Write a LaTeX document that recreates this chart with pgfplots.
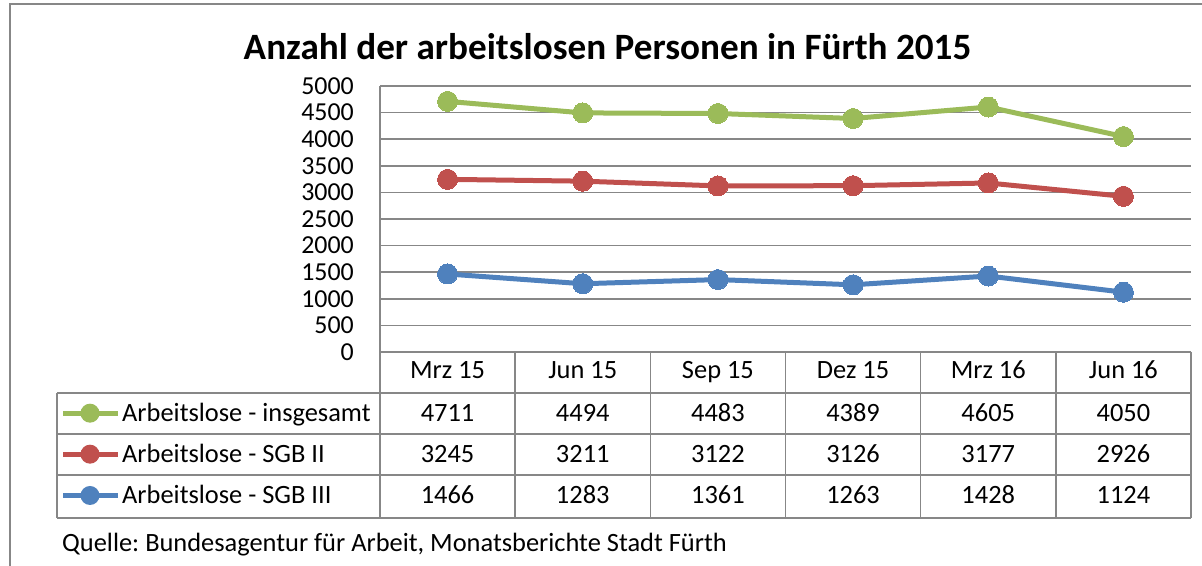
\documentclass[border=0pt]{standalone}
\usepackage{pgfplots}
\usepackage{pgfplotstable}
\pgfplotsset{compat=1.18}
\usepackage{fontspec}
\setmainfont{Carlito}
\frenchspacing
\definecolor{cgreen}{HTML}{9BBB59}
\definecolor{cred}{HTML}{C0504D}
\definecolor{cblue}{HTML}{4F81BD}
\definecolor{cgrid}{HTML}{878787}

\pgfplotstableread{
x tot sgb2 sgb3
0 4711 3245 1466
1 4494 3211 1283
2 4483 3122 1361
3 4389 3126 1263
4 4605 3177 1428
5 4050 2926 1124
}\datatable

\begin{document}
\begin{tikzpicture}[x=1bp,y=1bp]
\useasboundingbox (0,0) rectangle (1202,566);
% outer frame (cropped)
\draw[cgrid, line width=1.5bp] (10,-2) -- (10,562) -- (1204,562);
% title
\node[anchor=base, inner sep=0pt] at (607.5,506) {\fontsize{37.3}{40}\selectfont\bfseries Anzahl der arbeitslosen Personen in Fürth 2015};

\begin{axis}[
  at={(380bp,214bp)}, anchor=south west,
  width=811bp, height=266bp, scale only axis,
  xmin=-0.5, xmax=5.5, ymin=0, ymax=5000,
  xtick=\empty,
  ytick={0,500,...,5000},
  ymajorgrids,
  grid style={cgrid, line width=1.5bp},
  axis lines*=left,
  axis line style={cgrid, line width=1.5bp},
  major tick length=0pt,
  clip=false,
  /pgf/number format/assume math mode=true,
  /pgf/number format/1000 sep={},
  yticklabel style={font=\fontsize{26}{26}\selectfont, inner sep=0pt, anchor=east, xshift=-26bp},
]
\addplot[cgreen, line width=5bp, mark=*, mark size=10bp, mark options={solid, fill=cgreen, draw=cgreen, line width=0pt}] table[x=x, y=tot] {\datatable};
\addplot[cred, line width=5bp, mark=*, mark size=10bp, mark options={solid, fill=cred, draw=cred, line width=0pt}] table[x=x, y=sgb2] {\datatable};
\addplot[cblue, line width=5bp, mark=*, mark size=10bp, mark options={solid, fill=cblue, draw=cblue, line width=0pt}] table[x=x, y=sgb3] {\datatable};
\end{axis}

% data table grid
\begin{scope}[cgrid, line width=1.5bp]
\draw (380,214) -- (1191,214);
\foreach \yy in {173,132,91,48} \draw (57,\yy) -- (1191,\yy);
\foreach \k in {0,...,6} \draw ({380+\k*135.1667},214) -- ({380+\k*135.1667},48);
\draw (57,173) -- (57,48);
\end{scope}

\tikzset{tabtxt/.style={anchor=base, inner sep=0pt, font=\fontsize{26.5}{26.5}\selectfont}}
% header labels
\foreach \lab [count=\k from 0] in {Mrz 15,Jun 15,Sep 15,Dez 15,Mrz 16,Jun 16}
  \node[tabtxt] at ({380+(\k+0.5)*135.1667},187) {\lab};

% values
\foreach \k in {0,...,5} {
  \pgfplotstablegetelem{\k}{tot}\of\datatable
  \node[tabtxt] at ({380+(\k+0.5)*135.1667},144.3) {\pgfplotsretval};
  \pgfplotstablegetelem{\k}{sgb2}\of\datatable
  \node[tabtxt] at ({380+(\k+0.5)*135.1667},103.3) {\pgfplotsretval};
  \pgfplotstablegetelem{\k}{sgb3}\of\datatable
  \node[tabtxt] at ({380+(\k+0.5)*135.1667},62) {\pgfplotsretval};
}

% legend keys
\foreach \c/\yy/\t in {cgreen/144.3/Arbeitslose - insgesamt, cred/103.3/Arbeitslose - SGB II, cblue/62/Arbeitslose - SGB III} {
  \draw[\c, line width=5bp] (63,\yy+8.5) -- (118,\yy+8.5);
  \fill[\c] (90,\yy+8.5) circle (9.5);
  \node[anchor=base west, inner sep=0pt, font=\fontsize{26.5}{26.5}\selectfont] at (122,\yy) {\t};
}

% source
\node[anchor=base west, inner sep=0pt, font=\fontsize{26.5}{26.5}\selectfont] at (62,14) {Quelle: Bundesagentur für Arbeit, Monatsberichte Stadt Fürth};
\end{tikzpicture}
\end{document}
